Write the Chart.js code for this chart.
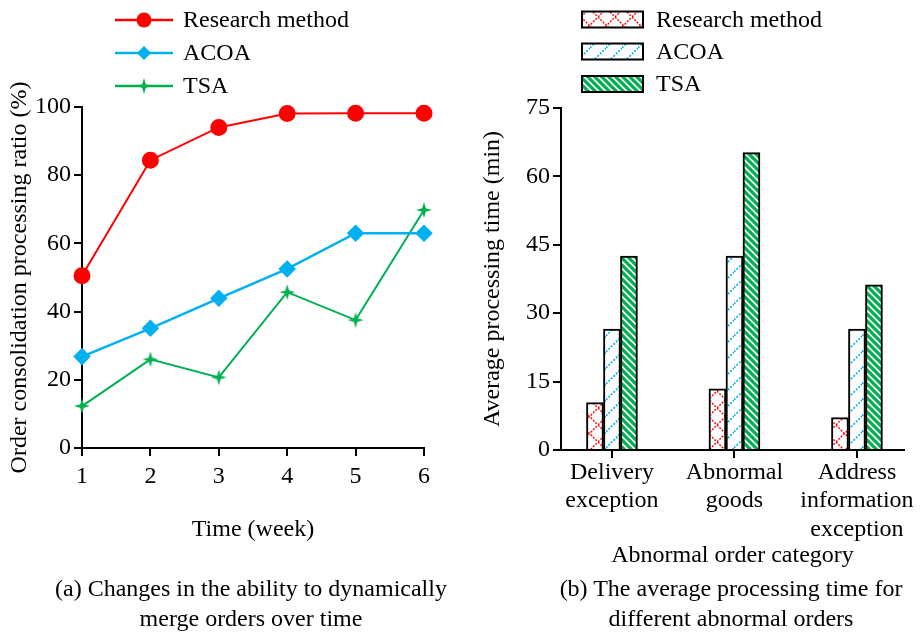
<!DOCTYPE html>
<html><head><meta charset="utf-8">
<script src="https://cdn.jsdelivr.net/npm/chart.js@4.4.1/dist/chart.umd.min.js"></script>
<style>
html,body{margin:0;padding:0;background:#fff;}
body{width:924px;height:632px;position:relative;overflow:hidden;font-family:"Liberation Serif","Times New Roman",serif;}
#c1{position:absolute;left:0;top:0;}
#c2{position:absolute;left:462px;top:0;}
.cap{position:absolute;font-size:24px;line-height:30px;text-align:center;color:#000;white-space:nowrap;}
</style></head><body>
<canvas id="c1" width="462" height="632"></canvas>
<canvas id="c2" width="462" height="632"></canvas>
<div class="cap" style="left:1px;width:500px;top:573px">(a) Changes in the ability to dynamically<br>merge orders over time</div>
<div class="cap" style="left:481px;top:573px;width:500px">(b) The average processing time for<br>different abnormal orders</div>
<script>
// ---------- data: chart (a) ----------
const weeks = ['1', '2', '3', '4', '5', '6'];
const seriesNames = ['Research method', 'ACOA', 'TSA'];
const ratioResearch = [50.5, 84.4, 94.0, 98.1, 98.2, 98.2];
const ratioACOA = [26.8, 35.1, 43.9, 52.5, 63.0, 63.0];
const ratioTSA = [12.3, 26.0, 20.7, 45.7, 37.5, 69.8];
const ratioTicks = [0, 20, 40, 60, 80, 100];

// ---------- data: chart (b) ----------
const categories = [['Delivery', 'exception'], ['Abnormal', 'goods'], ['Address', 'information', 'exception']];
const timeResearch = [10.4, 13.4, 7.1];
const timeACOA = [26.5, 42.5, 26.5];
const timeTSA = [42.5, 65.2, 36.2];
const timeTicks = [0, 15, 30, 45, 60, 75];

// ---------- styles ----------
const FONT = {family: '"Liberation Serif","Times New Roman",serif', size: 24};
const RED = '#FF0000', BLUE = '#00B0F0', GREEN = '#00B050';

function starCanvas(r, color) {
  const c = document.createElement('canvas');
  c.width = c.height = 2 * r + 2;
  const g = c.getContext('2d');
  const cx = r + 1, cy = r + 1, ri = r * 0.32;
  g.fillStyle = color;
  g.beginPath();
  for (let k = 0; k < 8; k++) {
    const a = -Math.PI / 2 + k * Math.PI / 4;
    const rr = k % 2 === 0 ? r : ri;
    const px = cx + rr * Math.cos(a), py = cy + rr * Math.sin(a);
    if (k === 0) g.moveTo(px, py); else g.lineTo(px, py);
  }
  g.closePath();
  g.fill();
  return c;
}
const STAR = starCanvas(8, GREEN);

function makePattern(kind) {
  const c = document.createElement('canvas');
  const g = c.getContext('2d');
  if (kind === 'cross') {
    c.width = c.height = 17;
    g.fillStyle = '#fff'; g.fillRect(0, 0, 17, 17);
    g.strokeStyle = RED; g.lineWidth = 1.4; g.setLineDash([2, 1.4]);
    g.beginPath(); g.moveTo(0, 0); g.lineTo(17, 17); g.moveTo(0, 17); g.lineTo(17, 0); g.stroke();
  } else if (kind === 'slash') {
    c.width = c.height = 16;
    g.fillStyle = '#fff'; g.fillRect(0, 0, 16, 16);
    g.strokeStyle = BLUE; g.lineWidth = 1.6; g.setLineDash([2, 1.5]);
    g.beginPath(); g.moveTo(0, 16); g.lineTo(16, 0); g.stroke();
  } else {
    c.width = c.height = 7;
    g.fillStyle = '#fff'; g.fillRect(0, 0, 7, 7);
    g.strokeStyle = GREEN; g.lineWidth = 3.2;
    g.beginPath();
    for (let k = -1; k <= 1; k++) { g.moveTo(k * 7 - 1, -1); g.lineTo(k * 7 + 8, 8); }
    g.stroke();
  }
  return g.createPattern(c, 'repeat');
}

const axisGrid = () => ({drawOnChartArea: false, offset: false, display: true, drawTicks: true, color: '#000', lineWidth: 2, tickColor: '#000', tickWidth: 2, tickLength: 8});

// ---------- chart (a) ----------
const legendLine = {
  id: 'legendLine',
  afterDraw(chart) {
    const ctx = chart.ctx;
    const ys = [20, 53, 86];
    chart.data.datasets.forEach((ds, i) => {
      const y = ys[i];
      ctx.save();
      ctx.strokeStyle = ds.borderColor; ctx.lineWidth = 2.5;
      ctx.beginPath(); ctx.moveTo(115, y); ctx.lineTo(173, y); ctx.stroke();
      ctx.fillStyle = ds.borderColor;
      if (ds.pointStyle === 'circle') {
        ctx.beginPath(); ctx.arc(144, y, 7.5, 0, Math.PI * 2); ctx.fill();
      } else if (ds.pointStyle === 'rectRot') {
        ctx.beginPath(); ctx.moveTo(144, y - 7); ctx.lineTo(151, y); ctx.lineTo(144, y + 7); ctx.lineTo(137, y); ctx.closePath(); ctx.fill();
      } else {
        ctx.drawImage(ds.pointStyle, 144 - ds.pointStyle.width / 2, y - ds.pointStyle.height / 2);
      }
      ctx.fillStyle = '#000';
      ctx.font = FONT.size + 'px ' + FONT.family;
      ctx.textBaseline = 'middle'; ctx.textAlign = 'left';
      ctx.fillText(ds.label, 183, y + 1);
      ctx.restore();
    });
  }
};

new Chart(document.getElementById('c1'), {
  type: 'line',
  data: {
    labels: weeks,
    datasets: [
      {label: seriesNames[0], data: ratioResearch, borderColor: RED, backgroundColor: RED, pointStyle: 'circle', pointRadius: 7.5, pointBorderColor: RED, pointBackgroundColor: RED, borderWidth: 2},
      {label: seriesNames[1], data: ratioACOA, borderColor: BLUE, backgroundColor: BLUE, pointStyle: 'rectRot', pointRadius: 7, pointBorderColor: BLUE, pointBackgroundColor: BLUE, borderWidth: 2.5},
      {label: seriesNames[2], data: ratioTSA, borderColor: GREEN, backgroundColor: GREEN, pointStyle: STAR, pointRadius: 8, borderWidth: 2}
    ]
  },
  options: {
    responsive: false, animation: false, clip: false,
    layout: {padding: {left: 0, top: 107, right: 38, bottom: 88}},
    plugins: {legend: {display: false}, tooltip: {enabled: false}},
    scales: {
      x: {
        type: 'category', offset: false,
        grid: axisGrid(),
        border: {color: '#000', width: 2},
        ticks: {color: '#000', font: FONT, padding: 6, maxRotation: 0},
        title: {display: true, text: 'Time (week)', color: '#000', font: FONT, padding: 0},
        afterFit(s) { s.height = 96; }
      },
      y: {
        min: 0, max: 100,
        afterBuildTicks(s) { s.ticks = ratioTicks.map(v => ({value: v})); },
        grid: axisGrid(),
        border: {color: '#000', width: 2},
        ticks: {color: '#000', font: FONT, padding: 3},
        title: {display: true, text: 'Order consolidation processing ratio (%)', color: '#000', font: FONT, padding: {top: 5, bottom: 0}},
        afterFit(s) { s.width = 82; }
      }
    }
  },
  plugins: [legendLine]
});

// ---------- chart (b) ----------
const legendBox = {
  id: 'legendBox',
  afterDraw(chart) {
    const ctx = chart.ctx;
    const ys = [19.5, 51.5, 84];
    chart.data.datasets.forEach((ds, i) => {
      const y = ys[i];
      ctx.save();
      ctx.fillStyle = ds.backgroundColor;
      ctx.fillRect(120, y - 8, 61, 16);
      ctx.strokeStyle = '#000'; ctx.lineWidth = 2;
      ctx.strokeRect(120, y - 8, 61, 16);
      ctx.fillStyle = '#000';
      ctx.font = FONT.size + 'px ' + FONT.family;
      ctx.textBaseline = 'middle'; ctx.textAlign = 'left';
      ctx.fillText(ds.label, 194, y + 1);
      ctx.restore();
    });
  }
};

const toXY = arr => arr.map((v, i) => ({x: i, y: v}));

new Chart(document.getElementById('c2'), {
  type: 'bar',
  data: {
    datasets: [
      {label: seriesNames[0], data: toXY(timeResearch), backgroundColor: makePattern('cross'), borderColor: '#000', borderWidth: 2, barThickness: 17},
      {label: seriesNames[1], data: toXY(timeACOA), backgroundColor: makePattern('slash'), borderColor: '#000', borderWidth: 2, barThickness: 17},
      {label: seriesNames[2], data: toXY(timeTSA), backgroundColor: makePattern('stripe'), borderColor: '#000', borderWidth: 2, barThickness: 17}
    ]
  },
  options: {
    responsive: false, animation: false,
    layout: {padding: {left: 0, top: 108, right: 20, bottom: 62}},
    plugins: {legend: {display: false}, tooltip: {enabled: false}},
    scales: {
      x: {
        type: 'linear', min: -0.416, max: 2.384, offset: false,
        afterBuildTicks(s) { s.ticks = categories.map((_, i) => ({value: i})); },
        grid: axisGrid(),
        border: {color: '#000', width: 2},
        ticks: {color: '#000', font: FONT, padding: 0, maxRotation: 0, autoSkip: false,
                callback: (v) => categories[Math.round(v)]},
        title: {display: true, text: 'Abnormal order category', color: '#000', font: FONT, padding: 0},
        afterFit(s) { s.height = 120; }
      },
      y: {
        min: 0, max: 75,
        afterBuildTicks(s) { s.ticks = timeTicks.map(v => ({value: v})); },
        grid: axisGrid(),
        border: {color: '#000', width: 2},
        ticks: {color: '#000', font: FONT, padding: 3},
        title: {display: true, text: 'Average processing time (min)', color: '#000', font: FONT, padding: {top: 16, bottom: 0}},
        afterFit(s) { s.width = 99; }
      }
    }
  },
  plugins: [legendBox]
});
</script>
</body></html>
